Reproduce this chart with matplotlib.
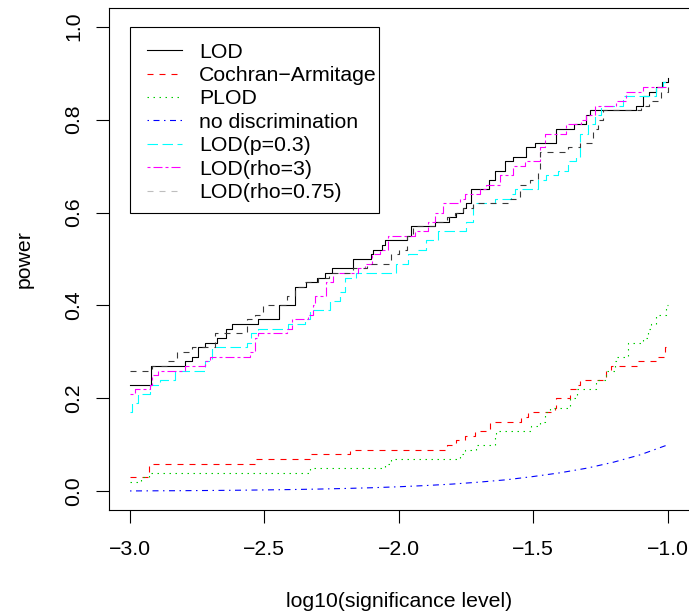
import matplotlib
matplotlib.use("Agg")
import matplotlib.pyplot as plt
from matplotlib.lines import Line2D
from matplotlib.patches import Rectangle

plt.rcParams['font.family'] = ['Liberation Sans', 'DejaVu Sans']
plt.rcParams['lines.scale_dashes'] = False

# ---------------- data (step curves: x where value changes, value from there) ----------------
lod_x = [-3.0, -2.923, -2.796, -2.77, -2.746, -2.72, -2.678, -2.643, -2.622, -2.523, -2.445, -2.387,
         -2.346, -2.306, -2.275, -2.248, -2.17, -2.105, -2.094, -2.064, -2.05, -1.969, -1.953, -1.866,
         -1.813, -1.786, -1.76, -1.75, -1.73, -1.664, -1.643, -1.606, -1.575, -1.525, -1.494, -1.414,
         -1.348, -1.302, -1.29, -1.116, -1.09, -1.067, -1.042, -1.02, -1.0]
lod_y = [0.23, 0.27, 0.28, 0.29, 0.31, 0.32, 0.33, 0.35, 0.36, 0.37, 0.40, 0.44,
         0.45, 0.46, 0.47, 0.48, 0.50, 0.51, 0.52, 0.53, 0.54, 0.55, 0.57, 0.58,
         0.59, 0.60, 0.61, 0.62, 0.65, 0.67, 0.69, 0.71, 0.72, 0.74, 0.75, 0.78,
         0.79, 0.81, 0.82, 0.83, 0.85, 0.86, 0.87, 0.88, 0.89]

ca_x = [-3.0, -2.93, -2.535, -2.33, -2.18, -1.822, -1.786, -1.755, -1.717, -1.662, -1.544, -1.519,
        -1.42, -1.414, -1.364, -1.339, -1.327, -1.228, -1.21, -1.11, -1.036, -1.011, -1.0]
ca_y = [0.03, 0.06, 0.07, 0.08, 0.09, 0.10, 0.11, 0.12, 0.13, 0.15, 0.16, 0.17,
        0.18, 0.20, 0.22, 0.23, 0.24, 0.26, 0.27, 0.28, 0.29, 0.31, 0.31]

plod_x = [-3.0, -2.96, -2.93, -2.33, -2.05, -2.03, -1.773, -1.755, -1.711, -1.643, -1.637, -1.507,
          -1.476, -1.457, -1.439, -1.364, -1.335, -1.265, -1.228, -1.197, -1.19, -1.148, -1.092,
          -1.073, -1.061, -1.042, -1.005, -1.0]
plod_y = [0.02, 0.03, 0.04, 0.05, 0.06, 0.07, 0.08, 0.09, 0.10, 0.12, 0.13, 0.14,
          0.15, 0.17, 0.18, 0.20, 0.22, 0.24, 0.26, 0.28, 0.29, 0.32, 0.33,
          0.35, 0.36, 0.38, 0.40, 0.40]

nodisc_x = [-3.0, -2.9, -2.8, -2.7, -2.6, -2.5, -2.4, -2.3, -2.2, -2.1, -2.0,
            -1.9, -1.8, -1.7, -1.6, -1.5, -1.4, -1.3, -1.2, -1.1, -1.0]
nodisc_y = [0.001, 0.0013, 0.0016, 0.002, 0.0025, 0.0032, 0.004, 0.005, 0.0063, 0.0079, 0.010,
            0.0126, 0.0158, 0.020, 0.025, 0.032, 0.040, 0.050, 0.063, 0.079, 0.100]

p03_x = [-3.0, -2.994, -2.969, -2.926, -2.888, -2.833, -2.721, -2.696, -2.566, -2.548, -2.523, -2.412,
         -2.349, -2.331, -2.257, -2.22, -2.20, -2.16, -2.009, -1.965, -1.928, -1.897, -1.854, -1.749,
         -1.724, -1.643, -1.581, -1.569, -1.482, -1.451, -1.408, -1.37, -1.339, -1.327, -1.296, -1.271,
         -1.247, -1.167, -1.042, -1.017, -1.0]
p03_y = [0.17, 0.19, 0.21, 0.23, 0.24, 0.26, 0.28, 0.31, 0.32, 0.34, 0.35, 0.36,
         0.37, 0.39, 0.41, 0.43, 0.46, 0.47, 0.49, 0.51, 0.52, 0.54, 0.56, 0.58,
         0.62, 0.63, 0.64, 0.65, 0.67, 0.68, 0.69, 0.71, 0.72, 0.77, 0.79, 0.81,
         0.83, 0.85, 0.87, 0.88, 0.88]

rho3_x = [-3.0, -2.98, -2.926, -2.92, -2.895, -2.796, -2.72, -2.703, -2.554, -2.535, -2.523, -2.417,
          -2.398, -2.336, -2.32, -2.310, -2.269, -2.244, -2.151, -2.126, -2.10, -2.071, -2.04, -1.94,
          -1.89, -1.866, -1.835, -1.773, -1.755, -1.699, -1.674, -1.625, -1.575, -1.532, -1.476,
          -1.457, -1.377, -1.321, -1.302, -1.271, -1.19, -1.153, -1.092, -1.0]
rho3_y = [0.21, 0.22, 0.23, 0.25, 0.26, 0.27, 0.28, 0.29, 0.30, 0.33, 0.34, 0.35,
          0.37, 0.38, 0.40, 0.42, 0.45, 0.47, 0.48, 0.49, 0.51, 0.52, 0.55, 0.56,
          0.58, 0.60, 0.62, 0.63, 0.64, 0.65, 0.66, 0.68, 0.70, 0.71, 0.74,
          0.77, 0.79, 0.80, 0.81, 0.83, 0.84, 0.86, 0.87, 0.87]

rho075_x = [-3.0, -2.92, -2.857, -2.826, -2.77, -2.684, -2.566, -2.535, -2.504, -2.417, -2.387, -2.35,
            -2.30, -2.26, -2.17, -2.12, -2.027, -2.0, -1.97, -1.948, -1.866, -1.82, -1.79, -1.76,
            -1.725, -1.587, -1.55, -1.513, -1.482, -1.476, -1.37, -1.327, -1.278, -1.259, -1.24,
            -1.098, -1.067, -1.024, -1.0]
rho075_y = [0.26, 0.27, 0.28, 0.30, 0.31, 0.34, 0.37, 0.38, 0.40, 0.42, 0.44, 0.45,
            0.46, 0.47, 0.48, 0.49, 0.51, 0.52, 0.55, 0.57, 0.58, 0.59, 0.60, 0.61,
            0.62, 0.63, 0.66, 0.67, 0.69, 0.73, 0.74, 0.75, 0.78, 0.80, 0.82,
            0.83, 0.84, 0.86, 0.87]

labels = ["LOD", "Cochran\u2212Armitage", "PLOD", "no discrimination",
          "LOD(p=0.3)", "LOD(rho=3)", "LOD(rho=0.75)"]
xticks = [-3.0, -2.5, -2.0, -1.5, -1.0]
yticks = [0.0, 0.2, 0.4, 0.6, 0.8, 1.0]

# ---------------- styles ----------------
u = 1.08  # R line-type unit in points
LS_SOLID = '-'
LS_DASHED = (0, (4 * u, 4 * u))
LS_DOTTED = (0, (1 * u, 3 * u))
LS_DOTDASH = (0, (1 * u, 3 * u, 4 * u, 3 * u))
LS_LONGDASH = (0, (7 * u, 3 * u))
LS_TWODASH = (0, (2 * u, 2 * u, 6 * u, 2 * u))
LW = 0.8
FS = 15.3

W, H = 689, 616
fig = plt.figure(figsize=(W / 100, H / 100), dpi=100)
ax = fig.add_axes([108.5 / W, 1 - 510 / H, (689 - 108.5) / W, (510 - 8) / H])

series = [
    (lod_x, lod_y, 'black', LS_SOLID),
    (ca_x, ca_y, '#FF0000', LS_DASHED),
    (plod_x, plod_y, '#00CD00', LS_DOTTED),
    (nodisc_x, nodisc_y, '#0000FF', LS_DOTDASH),
    (p03_x, p03_y, '#00FFFF', LS_LONGDASH),
    (rho3_x, rho3_y, '#FF00FF', LS_TWODASH),
    (rho075_x, rho075_y, '#3a3a3a', LS_DASHED),
]
for i, (xs, ys, c, ls) in enumerate(series):
    if i == 3:
        ax.plot(xs, ys, color=c, linestyle=ls, linewidth=LW)
    else:
        ax.step(xs, ys, where='post', color=c, linestyle=ls, linewidth=LW)

ax.set_xlim(-3.08, -0.92)
ax.set_ylim(-0.04, 1.04)
ax.set_xticks(xticks)
ax.set_xticklabels([f"{t:.1f}".replace('-', '\u2212') for t in xticks])
ax.set_yticks(yticks)
ax.set_yticklabels([f"{t:.1f}" for t in yticks], rotation=90, va='center')
ax.spines['right'].set_visible(False)
for s in ax.spines.values():
    s.set_linewidth(0.8)
ax.tick_params(axis='both', length=9.4, width=0.8, labelsize=FS, direction='out')
ax.tick_params(axis='x', pad=12)
ax.tick_params(axis='y', pad=9)

ax.set_xlabel("log10(significance level)", fontsize=FS, labelpad=24)
ax.set_ylabel("power", fontsize=FS, labelpad=22)

# legend (frame drawn as a separate box like R's legend)
leg_colors = ['black', '#FF0000', '#00CD00', '#0000FF', '#00FFFF', '#FF00FF', '#BEBEBE']
leg_styles = [LS_SOLID, LS_DASHED, LS_DOTTED, LS_DOTDASH, LS_LONGDASH, LS_TWODASH, LS_DASHED]
handles = [Line2D([], [], color=c, linestyle=ls, linewidth=LW) for c, ls in zip(leg_colors, leg_styles)]
box = Rectangle((130 / W, 1 - 213.3 / H), (379 - 130) / W, (213.3 - 26.7) / H,
                transform=fig.transFigure, fill=True, facecolor='white',
                edgecolor='black', linewidth=0.8, zorder=4, clip_on=False)
ax.add_patch(box)
leg = ax.legend(handles, labels, loc='upper left',
                bbox_to_anchor=(146.7 / W, 1 - 42.5 / H), bbox_transform=fig.transFigure,
                borderaxespad=0, borderpad=0, fontsize=FS, frameon=False,
                handlelength=35 / 21.25, handletextpad=17.6 / 21.25,
                labelspacing=0.21)
leg.set_zorder(6)

fig.savefig("out.png", dpi=100)
